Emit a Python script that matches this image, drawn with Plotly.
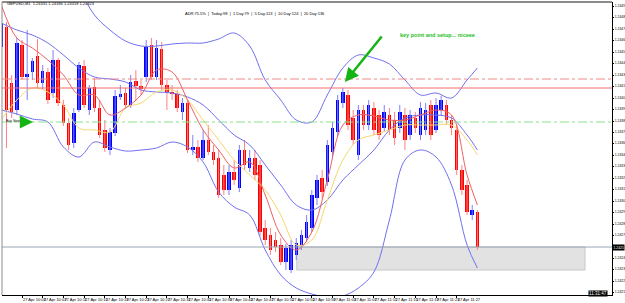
import plotly.graph_objects as go

# ---------------- data ----------------
minutes = list(range(599, 692))  # 09:59 .. 11:31 (M1 bars)
opens = [1.24453,1.24473,1.24417,1.24390,1.24455,1.24423,1.24428,1.24444,1.24417,1.24428,
         1.24407,1.24440,1.24395,1.24377,1.24357,1.24390,1.24434,1.24390,1.24413,1.24392,
         1.24370,1.24350,1.24367,1.24403,1.24407,1.24395,1.24419,1.24414,1.24423,1.24455,
         1.24423,1.24451,1.24415,1.24408,1.24406,1.24388,1.24397,1.24350,1.24353,1.24342,
         1.24360,1.24348,1.24342,1.24325,1.24310,1.24328,1.24312,1.24350,1.24332,1.24342,
         1.24335,1.24272,1.24265,1.24260,1.24255,1.24238,1.24230,1.24245,1.24255,1.24262,
         1.24272,1.24302,1.24322,1.24318,1.24348,1.24368,1.24397,1.24405,1.24382,1.24345,
         1.24390,1.24375,1.24392,1.24385,1.24372,1.24385,1.24380,1.24372,1.24385,1.24365,
         1.24382,1.24365,1.24370,1.24395,1.24370,1.24390,1.24395,1.24380,1.24370,1.24330,
         1.24315,1.24285,1.24288]
highs = [1.24480,1.24478,1.24425,1.24462,1.24460,1.24470,1.24442,1.24461,1.24435,1.24432,
         1.24450,1.24442,1.24400,1.24382,1.24392,1.24438,1.24440,1.24415,1.24422,1.24400,
         1.24380,1.24372,1.24410,1.24415,1.24412,1.24425,1.24430,1.24420,1.24460,1.24462,
         1.24460,1.24458,1.24420,1.24415,1.24410,1.24402,1.24400,1.24365,1.24360,1.24370,
         1.24375,1.24355,1.24350,1.24335,1.24335,1.24340,1.24355,1.24360,1.24350,1.24350,
         1.24340,1.24280,1.24272,1.24268,1.24262,1.24256,1.24260,1.24262,1.24270,1.24285,
         1.24310,1.24325,1.24330,1.24360,1.24378,1.24405,1.24412,1.24410,1.24390,1.24395,
         1.24395,1.24400,1.24398,1.24390,1.24395,1.24392,1.24388,1.24395,1.24392,1.24390,
         1.24388,1.24398,1.24397,1.24400,1.24402,1.24404,1.24400,1.24385,1.24375,1.24335,
         1.24320,1.24295,1.24290]
lows = [1.24450,1.24352,1.24382,1.24385,1.24420,1.24400,1.24420,1.24412,1.24410,1.24396,
        1.24402,1.24394,1.24374,1.24350,1.24352,1.24388,1.24392,1.24385,1.24388,1.24362,
        1.24348,1.24345,1.24364,1.24400,1.24392,1.24392,1.24400,1.24405,1.24418,1.24420,
        1.24420,1.24410,1.24390,1.24400,1.24388,1.24380,1.24347,1.24345,1.24338,1.24340,
        1.24345,1.24335,1.24302,1.24305,1.24305,1.24315,1.24308,1.24330,1.24328,1.24320,
        1.24264,1.24255,1.24245,1.24248,1.24235,1.24230,1.24227,1.24240,1.24250,1.24258,
        1.24268,1.24295,1.24302,1.24314,1.24342,1.24364,1.24392,1.24370,1.24355,1.24340,
        1.24370,1.24370,1.24365,1.24360,1.24368,1.24365,1.24355,1.24367,1.24350,1.24360,
        1.24367,1.24360,1.24365,1.24360,1.24367,1.24385,1.24375,1.24365,1.24325,1.24305,
        1.24285,1.24280,1.24250]
closes = [1.24477,1.24390,1.24388,1.24457,1.24423,1.24426,1.24439,1.24417,1.24429,1.24400,
          1.24440,1.24397,1.24377,1.24355,1.24387,1.24435,1.24395,1.24412,1.24392,1.24365,
          1.24352,1.24368,1.24404,1.24406,1.24395,1.24418,1.24414,1.24411,1.24453,1.24423,
          1.24452,1.24415,1.24408,1.24406,1.24392,1.24397,1.24350,1.24353,1.24342,1.24360,
          1.24348,1.24340,1.24305,1.24310,1.24328,1.24320,1.24350,1.24335,1.24342,1.24325,
          1.24268,1.24260,1.24250,1.24253,1.24238,1.24252,1.24255,1.24257,1.24265,1.24278,
          1.24305,1.24320,1.24308,1.24355,1.24372,1.24400,1.24408,1.24375,1.24360,1.24390,
          1.24375,1.24395,1.24370,1.24365,1.24388,1.24370,1.24362,1.24388,1.24360,1.24385,
          1.24372,1.24392,1.24390,1.24365,1.24395,1.24400,1.24380,1.24372,1.24330,1.24310,
          1.24288,1.24290,1.24253]

ind_minutes = [599,602,605,608,611,614,617,620,623,626,629,632,635,638,641,644,647,650,
               653,656,659,662,665,668,671,674,677,680,683,686,689,691]
bb_upper = [1.24590,1.24585,1.24575,1.24560,1.24540,1.24512,1.24485,1.24470,1.24459,1.24454,
            1.24454,1.24456,1.24457,1.24457,1.24461,1.24467,1.24454,1.24420,1.24400,1.24380,
            1.24378,1.24405,1.24432,1.24445,1.24442,1.24436,1.24420,1.24405,1.24407,1.24402,
            1.24420,1.24432]
bb_middle = [1.24477,1.24470,1.24465,1.24457,1.24445,1.24432,1.24423,1.24421,1.24418,1.24410,
             1.24408,1.24407,1.24403,1.24395,1.24380,1.24365,1.24355,1.24335,1.24315,1.24295,
             1.24290,1.24300,1.24320,1.24335,1.24350,1.24370,1.24382,1.24385,1.24385,1.24382,
             1.24365,1.24350]
bb_lower = [1.24390,1.24386,1.24381,1.24378,1.24353,1.24343,1.24358,1.24353,1.24349,1.24350,
            1.24352,1.24358,1.24353,1.24338,1.24308,1.24293,1.24285,1.24250,1.24225,1.24212,
            1.24206,1.24203,1.24204,1.24212,1.24228,1.24280,1.24340,1.24350,1.24343,1.24315,
            1.24255,1.24232]
ma_fast = [1.24495,1.24462,1.24452,1.24440,1.24425,1.24405,1.24405,1.24385,1.24392,1.24405,
           1.24430,1.24428,1.24400,1.24370,1.24350,1.24332,1.24338,1.24305,1.24265,1.24250,
           1.24268,1.24320,1.24375,1.24385,1.24384,1.24380,1.24380,1.24385,1.24390,1.24385,
           1.24325,1.24295]
ma_slow = [1.24380,1.24400,1.24412,1.24408,1.24395,1.24372,1.24370,1.24368,1.24392,1.24397,
           1.24408,1.24410,1.24400,1.24380,1.24360,1.24340,1.24325,1.24310,1.24285,1.24255,
           1.24260,1.24300,1.24340,1.24360,1.24365,1.24370,1.24375,1.24375,1.24375,1.24375,
           1.24360,1.24345]

level_red_dashdot = 1.24421
level_red = 1.24412
level_green = 1.24378
bid_price = 1.24253
zone_top, zone_bottom = 1.24253, 1.24230
zone_start, zone_end = 656.1, 711.8

tick_minutes = list(range(599, 688, 4))
tick_text = ["27 Apr 2020"] + ["27 Apr %d:%02d" % divmod(m, 60) for m in tick_minutes[1:]]
price_ticks = [round(1.24494 - 0.0001145 * i, 5) for i in range(26)]
price_text = ["" if abs(v - bid_price) < 0.00008 else "%.4f" % v for v in price_ticks]

# ---------------- figure ----------------
fig = go.Figure()

def wicks(sel):
    xs, ys = [], []
    for i in sel:
        xs += [minutes[i], minutes[i], None]
        ys += [highs[i], lows[i], None]
    return xs, ys

up = [i for i in range(len(minutes)) if closes[i] >= opens[i]]
dn = [i for i in range(len(minutes)) if closes[i] < opens[i]]

for sel, wc in ((up, "#7f7fff"), (dn, "#ff8080")):
    xs, ys = wicks(sel)
    fig.add_trace(go.Scatter(x=xs, y=ys, mode="lines", line=dict(color=wc, width=1),
                             hoverinfo="skip", showlegend=False))
for sel, bc in ((up, "#0000ff"), (dn, "#ff0000")):
    fig.add_trace(go.Bar(x=[minutes[i] for i in sel],
                         base=[opens[i] for i in sel],
                         y=[closes[i] - opens[i] for i in sel],
                         width=0.68, marker=dict(color=bc, line=dict(width=0)),
                         showlegend=False))

for arr, col in ((bb_upper, "#7070f0"), (bb_middle, "#7070f0"), (bb_lower, "#7070f0"),
                 (ma_slow, "#f5d76e"), (ma_fast, "#f06060")):
    fig.add_trace(go.Scatter(x=ind_minutes, y=arr, mode="lines", line=dict(color=col, width=1),
                             line_shape="spline", showlegend=False, hoverinfo="skip"))

X0, X1 = 599.135, 717.01
Y0, Y1 = 1.24205, 1.24498

shapes = [
    dict(type="rect", xref="x", yref="y", x0=zone_start, x1=zone_end, y0=zone_bottom, y1=zone_top,
         fillcolor="#e2e2e2", line=dict(color="#c8c8c8", width=1), layer="below"),
    dict(type="line", xref="paper", yref="y", x0=0, x1=1, y0=level_red_dashdot, y1=level_red_dashdot,
         line=dict(color="#f08a8a", width=1, dash="dashdot")),
    dict(type="line", xref="paper", yref="y", x0=0, x1=1, y0=level_red, y1=level_red,
         line=dict(color="#f26c6c", width=1)),
    dict(type="line", xref="paper", yref="y", x0=0, x1=1, y0=level_green, y1=level_green,
         line=dict(color="#8de08d", width=1, dash="dashdot")),
    dict(type="line", xref="paper", yref="y", x0=0, x1=1, y0=bid_price, y1=bid_price,
         line=dict(color="#98a4b4", width=1)),
    dict(type="line", xref="paper", yref="paper", x0=0, x1=1, y0=1, y1=1,
         line=dict(color="#8c8c8c", width=2)),
    dict(type="line", xref="paper", yref="paper", x0=0, x1=0, y0=0, y1=1,
         line=dict(color="#8c8c8c", width=1)),
]

def px(x):
    return (x - 2) / 610.0

def py(y):
    return 1 - (y - 2) / 293.0

annotations = [
    dict(xref="paper", yref="paper", x=px(5), y=py(4), xanchor="left", yanchor="middle",
         text="GBPUSD,M1  1.24331 1.24336 1.24318 1.24323", showarrow=False,
         font=dict(size=4, color="#000000")),
    dict(xref="paper", yref="paper", x=px(183), y=py(13), xanchor="left", yanchor="middle",
         text="ADR:75.5%  |  Today:98  |  1 Day:79  |  5 Day:113  |  10 Day:124  |  20 Day:136",
         showarrow=False, font=dict(size=4, color="#000000")),
    dict(xref="paper", yref="paper", x=px(398), y=py(35), xanchor="left", yanchor="middle",
         text="<b>key point and setup... niceee</b>", showarrow=False,
         font=dict(size=5.5, color="#1fc01f")),
    dict(xref="x", yref="y", x=665.4, y=1.24418, ax=38, ay=-47, text="", showarrow=True,
         arrowhead=2, arrowsize=1.1, arrowwidth=2.5, arrowcolor="#14b414"),
    dict(xref="paper", yref="paper", x=px(4), y=py(121), xanchor="left", yanchor="middle",
         text="Buy Stop(1)", showarrow=False, font=dict(size=3.5, color="#000000")),
    dict(xref="paper", yref="paper", x=px(33), y=py(122), ax=-7, ay=0, text="", showarrow=True,
         arrowhead=2, arrowsize=1.2, arrowwidth=2.2, arrowcolor="#14b414"),
    dict(xref="paper", yref="y", x=1.0, y=bid_price, xanchor="left", yanchor="middle",
         text="1.2425", showarrow=False, bgcolor="#000000", borderpad=0.5,
         font=dict(size=3.4, color="#ffffff")),
    dict(xref="paper", yref="paper", x=px(608), y=py(293), xanchor="right", yanchor="middle",
         text="11:31:47", showarrow=False, bgcolor="#000000", borderpad=0,
         font=dict(size=4.5, color="#ffffff")),
]

fig.update_layout(
    width=625, height=303,
    margin=dict(l=2, r=13, t=2, b=8),
    paper_bgcolor="#ffffff", plot_bgcolor="#ffffff",
    font=dict(family="Liberation Sans, Arial, sans-serif", size=4, color="#000000"),
    barmode="overlay", bargap=0,
    shapes=shapes, annotations=annotations,
    xaxis=dict(range=[X0, X1], showgrid=False, zeroline=False, showline=True, automargin=False,
               linecolor="#000000", linewidth=1, ticks="outside", ticklen=2, tickcolor="#000000",
               tickmode="array", tickvals=tick_minutes, ticktext=tick_text, tickangle=0,
               ticklabelposition="outside right", tickfont=dict(size=4), fixedrange=True),
    yaxis=dict(range=[Y0, Y1], side="right", showgrid=False, zeroline=False, showline=True,
               automargin=False,
               linecolor="#000000", linewidth=1, ticks="outside", ticklen=1, tickcolor="#000000",
               tickmode="array", tickvals=price_ticks, ticktext=price_text,
               tickfont=dict(size=3.4), fixedrange=True),
    hovermode=False,
)

fig.write_html("out.html")
